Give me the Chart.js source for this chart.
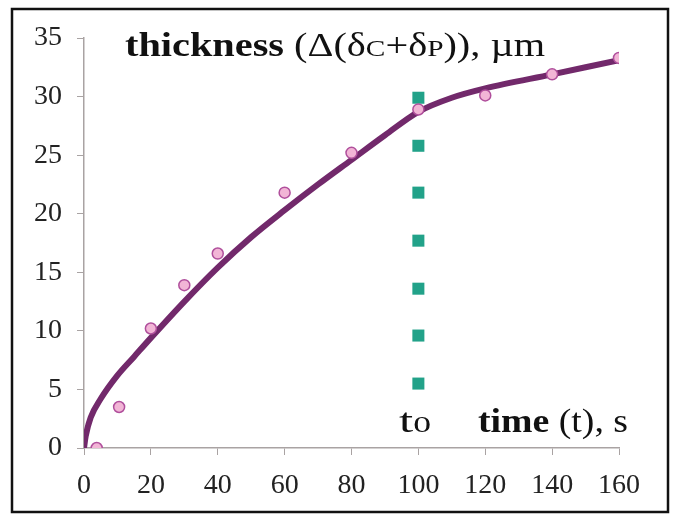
<!DOCTYPE html>
<html>
<head>
<meta charset="utf-8">
<script src="https://cdn.jsdelivr.net/npm/chart.js@4"></script>
<style>
    body { margin: 0; background: #fff; }
    #wrap { width: 674px; height: 514px; }
</style>
</head>
<body>
<div id="wrap"><canvas id="myChart" width="674" height="514"></canvas></div>
<script>
// fitted curve
const curveTime = [0, 0.5, 2, 5, 10, 15, 20, 30, 40, 50, 60, 70, 80, 90, 100, 110, 120, 140, 160];
const curveThickness = [0, 1.0, 2.6, 4.2, 6.2, 7.8, 9.4, 12.5, 15.4, 18.0, 20.3, 22.5, 24.6, 26.7, 28.7, 29.9, 30.7, 31.9, 33.1];

// measured points
const measTime = [3.8, 10.5, 20, 30, 40, 60, 80, 100, 120, 140, 160];
const measThickness = [0, 3.5, 10.2, 13.9, 16.6, 21.8, 25.2, 28.9, 30.1, 31.9, 33.3];

// dotted marker at t0
const t0 = 100;
const t0Marks = [29.9, 25.8, 21.8, 17.7, 13.6, 9.6, 5.5];

const xMin = 0, xMax = 160, xStep = 20;
const yMin = 0, yMax = 35, yStep = 5;

const SERIF = "'Liberation Serif', 'DejaVu Serif', serif";

function toPoints(xs, ys) {
    let pts = [];
    for (let i = 0; i < xs.length; i++) {
        pts.push({ x: xs[i], y: ys[i] });
    }
    return pts;
}

// writes a run of [font, text] parts, stretched to a given width
function drawRun(ctx, parts, x, y, width) {
    let total = 0;
    for (let i = 0; i < parts.length; i++) {
        ctx.font = parts[i][0];
        total += ctx.measureText(parts[i][1]).width;
    }
    let sx = width / total;
    ctx.save();
    ctx.translate(x, y);
    ctx.scale(sx, 1);
    let cx = 0;
    for (let i = 0; i < parts.length; i++) {
        ctx.font = parts[i][0];
        ctx.fillText(parts[i][1], cx, 0);
        cx += ctx.measureText(parts[i][1]).width;
    }
    ctx.restore();
}

// draws the frame and the texts inside the plot
const textPlugin = {
    id: 'texts',
    beforeDraw(chart) {
        const ctx = chart.ctx;
        ctx.save();
        ctx.fillStyle = '#fff';
        ctx.fillRect(0, 0, chart.width, chart.height);
        ctx.strokeStyle = '#111';
        ctx.lineWidth = 2.5;
        ctx.strokeRect(12, 9, 656, 503);
        ctx.restore();
    },
    afterDraw(chart) {
        const ctx = chart.ctx;
        ctx.save();
        ctx.fillStyle = '#111';
        ctx.textBaseline = 'alphabetic';

        // title: thickness (Δ(δC+δP)), µm
        drawRun(ctx, [
            ["bold 33px " + SERIF, "thickness"],
            ["33px " + SERIF, " (Δ(δ"],
            ["24px " + SERIF, "C"],
            ["33px " + SERIF, "+δ"],
            ["24px " + SERIF, "P"],
            ["33px " + SERIF, ")), µm"]
        ], 125, 56, 420);

        // t0
        drawRun(ctx, [
            ["33px " + SERIF, "t"],
            ["23px " + SERIF, "0"]
        ], 399, 432, 32);

        // x axis title: time (t), s
        drawRun(ctx, [
            ["bold 33px " + SERIF, "time"],
            ["33px " + SERIF, " (t), s"]
        ], 478, 432, 150);
        ctx.restore();
    }
};

const axisColor = '#a9a3a3';

const ctx = document.getElementById('myChart').getContext('2d');
const chart = new Chart(ctx, {
    type: 'scatter',
    data: {
        datasets: [
            {
                label: 'measured',
                data: toPoints(measTime, measThickness),
                backgroundColor: '#f2b5d6',
                borderColor: '#b04f9c',
                borderWidth: 1.5,
                pointRadius: 5.5,
                showLine: false
            },
            {
                label: 't0',
                data: toPoints(t0Marks.map(() => t0), t0Marks),
                pointStyle: 'rect',
                backgroundColor: '#22a289',
                borderColor: '#22a289',
                borderWidth: 0,
                pointRadius: 8.5,
                showLine: false
            },
            {
                label: 'fit',
                data: toPoints(curveTime, curveThickness),
                showLine: true,
                borderColor: '#72296b',
                borderWidth: 6,
                pointRadius: 0,
                cubicInterpolationMode: 'monotone',
                fill: false
            }
        ]
    },
    options: {
        responsive: false,
        animation: false,
        layout: { padding: { top: 38, right: 55, bottom: 0, left: 0 } },
        plugins: {
            legend: { display: false },
            tooltip: { enabled: false },
            title: { display: false }
        },
        scales: {
            x: {
                type: 'linear',
                min: xMin,
                max: xMax,
                afterFit: (scale) => { scale.height = 66; },
                grid: { drawOnChartArea: false, drawTicks: true, tickLength: 7, color: axisColor },
                border: { color: axisColor, width: 1.5 },
                ticks: {
                    stepSize: xStep,
                    padding: 14,
                    color: '#222',
                    font: { family: SERIF, size: 28 }
                }
            },
            y: {
                type: 'linear',
                min: yMin,
                max: yMax,
                afterFit: (scale) => { scale.width = 84; },
                grid: { drawOnChartArea: false, drawTicks: true, tickLength: 7, color: axisColor },
                border: { color: axisColor, width: 1.5 },
                ticks: {
                    stepSize: yStep,
                    padding: 15,
                    color: '#222',
                    font: { family: SERIF, size: 28 }
                }
            }
        }
    },
    plugins: [textPlugin]
});
</script>
</body>
</html>
